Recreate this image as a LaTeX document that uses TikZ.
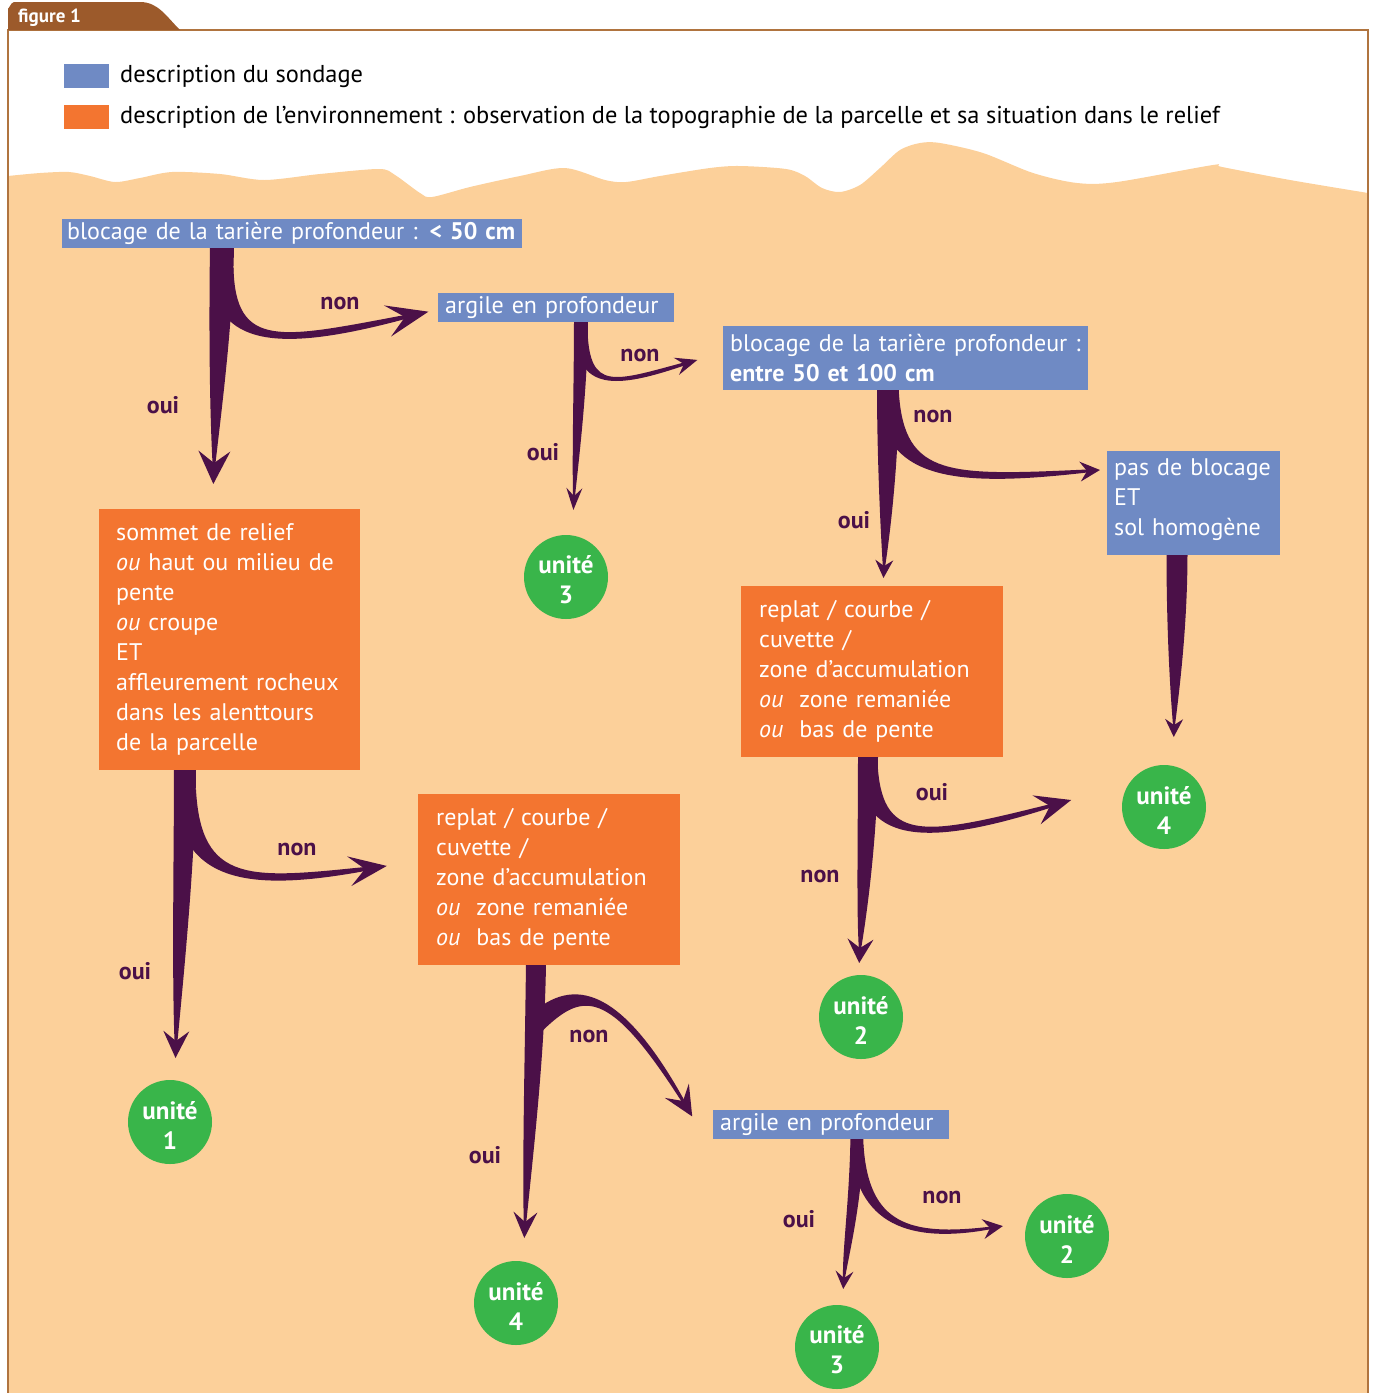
\documentclass[tikz,border=0pt]{standalone}
\usepackage{fontspec}
\setmainfont{PT Sans}
\usetikzlibrary{calc}
\definecolor{sand}{HTML}{FCD09A}
\definecolor{bluebox}{HTML}{6F8AC4}
\definecolor{orangebox}{HTML}{F37530}
\definecolor{plum}{HTML}{4B1048}
\definecolor{greenu}{HTML}{39B54A}
\definecolor{tabbrown}{HTML}{9C5A2B}
\definecolor{framebrown}{HTML}{B0743F}
% tapered arrow: #1 start, #2 ctrl1, #3 ctrl2, #4 end, #5 half width start, #6 half width end,
% #7 head length ahead, #8 barb back, #9 barb half spread
\newcommand\flowarrow[9]{%
  \pgfmathsetlengthmacro\fwmid{(#5+#6)/2}%
  \fill[plum] ($#1!#5!90:#2$) .. controls ($#2!#5!-90:#1$) and ($#3!\fwmid!90:#4$) .. ($#4!#6!-90:#3$)
     -- ($#4!#6!90:#3$) .. controls ($#3!\fwmid!-90:#4$) and ($#2!#5!90:#1$) .. ($#1!#5!-90:#2$) -- cycle;
  \coordinate (hb) at ($#4!#8!#3$);
  \fill[plum] ($#4!-#7!#3$) -- ($(hb)!#9!90:#4$) -- #4 -- ($(hb)!#9!-90:#4$) -- cycle;
}
\tikzset{
  bbox/.style={fill=bluebox, anchor=north west, inner xsep=7pt, inner ysep=0pt, align=left,
    text=white, font=\fontsize{24}{30}\selectfont},
  obox/.style={fill=orangebox, anchor=north west, inner xsep=17pt, inner ysep=0pt, align=left,
    text=white, font=\fontsize{24}{30}\selectfont},
  lab/.style={text=plum, font=\fontsize{24}{28}\selectfont\bfseries},
  unit/.style={circle, fill=greenu, minimum size=84pt, inner sep=0pt},
  utext/.style={text=white, align=center, inner sep=0pt, font=\fontsize{25}{30}\selectfont\bfseries},
  legsq/.style={fill=#1, minimum width=45pt, minimum height=24pt, inner sep=0pt, anchor=north west},
  legtxt/.style={anchor=west, inner sep=0pt, font=\fontsize{24.4}{30}\selectfont},
}
\begin{document}
\begin{tikzpicture}[x=1pt,y=-1pt]
\useasboundingbox (0,0) rectangle (1376,1393);
% sand ground
\fill[sand] plot[smooth, tension=0.5] coordinates {(8,176) (40,173) (69,172) (90,176) (115,182)
  (140,178) (172,172) (220,174) (264,180) (320,174) (379,169) (395,175) (420,193) (432,197)
  (470,187) (520,176) (565,168) (605,180) (626,182) (660,176) (710,168) (740,166) (786,169)
  (805,176) (822,188) (840,192) (860,185) (880,168) (900,150) (920,143) (940,143) (983,153)
  (1033,173) (1077,183) (1117,182) (1213,165) (1222,167) (1290,180) (1368,193)}
  -- (1368,1393) -- (8,1393) -- cycle;
% frame and tab
\draw[framebrown, line width=1.2pt] (8,1393) -- (8,30) -- (1368,30) -- (1368,1393);
\fill[tabbrown] (8,30) -- (8,8) to[out=-90,in=180] (14,2) -- (140,2)
  .. controls (158,2) and (166,16) .. (180,30) -- cycle;
\node[anchor=base west, text=white, inner sep=0pt, font=\fontsize{19}{22}\selectfont\bfseries] (fig) at (18,22) {figure 1};
% legend
\node[legsq=bluebox] (lgb) at (64,64) {};
\node[legsq=orangebox] (lgo) at (64,105) {};
\node[legtxt] (lgbt) at (120,76) {description du sondage};
\node[legtxt] (lgot) at (120,117) {description de l’environnement : observation de la topographie de la parcelle et sa situation dans le relief};

% arrows (drawn before boxes)
% group 1
\flowarrow{(222,245)}{(221,320)}{(216,400)}{(214,463)}{12pt}{1.5pt}{21pt}{12pt}{16pt}
\flowarrow{(222,268)}{(224,350)}{(282,345)}{(405,317)}{11.5pt}{2pt}{24pt}{18pt}{16pt}
% group 2
\flowarrow{(581,318)}{(581,380)}{(576,450)}{(574,496)}{7pt}{1pt}{14pt}{8pt}{8pt}
\flowarrow{(581,330)}{(583,392)}{(615,385)}{(684,364)}{6.5pt}{1.5pt}{14pt}{8pt}{9pt}
% group 3
\flowarrow{(888,386)}{(888,450)}{(886,520)}{(884,566)}{11pt}{1.2pt}{12pt}{6pt}{9pt}
\flowarrow{(888,395)}{(894,478)}{(950,482)}{(1087,471)}{11pt}{1.5pt}{13pt}{7pt}{10pt}
% group 4
\flowarrow{(1177,552)}{(1177,620)}{(1175,680)}{(1174,725)}{10.5pt}{1pt}{12pt}{6pt}{9pt}
% group 5
\flowarrow{(185,766)}{(185,850)}{(178,970)}{(176,1041)}{11pt}{1.5pt}{17pt}{10pt}{13pt}
\flowarrow{(185,790)}{(190,885)}{(252,885)}{(365,869)}{11pt}{2pt}{22pt}{16pt}{15pt}
% group 6
\flowarrow{(536,962)}{(535,1050)}{(528,1150)}{(525,1222)}{10pt}{1.3pt}{16pt}{10pt}{12pt}
\flowarrow{(534,1025)}{(575,985)}{(612,982)}{(683,1101)}{10pt}{1.5pt}{18pt}{12pt}{14pt}
% group 7
\flowarrow{(868,754)}{(868,830)}{(862,910)}{(860,948)}{10pt}{1.2pt}{15pt}{9pt}{13pt}
\flowarrow{(868,770)}{(874,845)}{(930,840)}{(1050,806)}{10pt}{1.8pt}{22pt}{14pt}{15pt}
% group 8
\flowarrow{(857,1136)}{(856,1200)}{(846,1250)}{(844,1278)}{6.5pt}{1pt}{11pt}{7pt}{9pt}
\flowarrow{(857,1145)}{(862,1225)}{(910,1240)}{(990,1228)}{6.5pt}{1.3pt}{13pt}{7pt}{10pt}

% boxes
\node[bbox, inner xsep=5pt, text width=450pt, minimum height=29pt] (B1) at (62,219) {blocage de la tarière profondeur : \textbf{< 50 cm}};
\node[bbox, text width=222pt, minimum height=29pt] (A1) at (438,293) {argile en profondeur};
\node[bbox, text width=351pt, minimum height=64pt] (B2) at (723,326) {blocage de la tarière profondeur :\\\textbf{entre 50 et 100 cm}};
\node[bbox, text width=159pt, minimum height=104pt] (P) at (1107,451) {pas de blocage\\ET\\sol homogène\par\vspace*{8pt}};
\node[obox, text width=227pt, minimum height=261pt] (O1) at (99,509) {sommet de relief\\\textit{ou} haut ou milieu de\\pente\\\textit{ou} croupe\\ET\\affleurement rocheux\\dans les alenttours\\de la parcelle};
\node[obox, inner xsep=18pt, text width=226pt, minimum height=171pt] (O2) at (418,794) {replat / courbe /\\cuvette /\\zone d’accumulation\\\textit{ou}\ \ zone remaniée\\\textit{ou}\ \ bas de pente};
\node[obox, inner xsep=18pt, text width=226pt, minimum height=171pt] (O3) at (741,586) {replat / courbe /\\cuvette /\\zone d’accumulation\\\textit{ou}\ \ zone remaniée\\\textit{ou}\ \ bas de pente};
\node[bbox, text width=222pt, minimum height=29pt] (A2) at (713,1110) {argile en profondeur};

% units
\node[unit] (u3a) at (566,577) {};
\node[unit] (u4a) at (1164,807) {};
\node[unit] (u2a) at (861,1017) {};
\node[unit] (u1) at (170,1122) {};
\node[unit] (u4b) at (516,1303) {};
\node[unit] (u2b) at (1067,1236) {};
\node[unit] (u3b) at (837,1347) {};
\node[utext] (t3a) at ($(u3a)+(0,3)$) {unité\\3};
\node[utext] (t4a) at ($(u4a)+(0,3)$) {unité\\4};
\node[utext] (t2a) at ($(u2a)+(0,3)$) {unité\\2};
\node[utext] (t1) at ($(u1)+(0,3)$) {unité\\1};
\node[utext] (t4b) at ($(u4b)+(0,3)$) {unité\\4};
\node[utext] (t2b) at ($(u2b)+(0,3)$) {unité\\2};
\node[utext] (t3b) at ($(u3b)+(0,3)$) {unité\\3};

% labels
\node[lab] (n1) at (340,303) {non};
\node[lab] (o1) at (163,405) {oui};
\node[lab] (n2) at (640,355) {non};
\node[lab] (o2) at (543,452) {oui};
\node[lab] (n3) at (933,416) {non};
\node[lab] (o3) at (854,520) {oui};
\node[lab] (n5) at (297,849) {non};
\node[lab] (o5) at (135,971) {oui};
\node[lab] (n6) at (589,1036) {non};
\node[lab] (o6) at (485,1155) {oui};
\node[lab] (o7) at (932,792) {oui};
\node[lab] (n7) at (820,876) {non};
\node[lab] (n8) at (942,1197) {non};
\node[lab] (o8) at (799,1219) {oui};
\end{tikzpicture}
\end{document}
